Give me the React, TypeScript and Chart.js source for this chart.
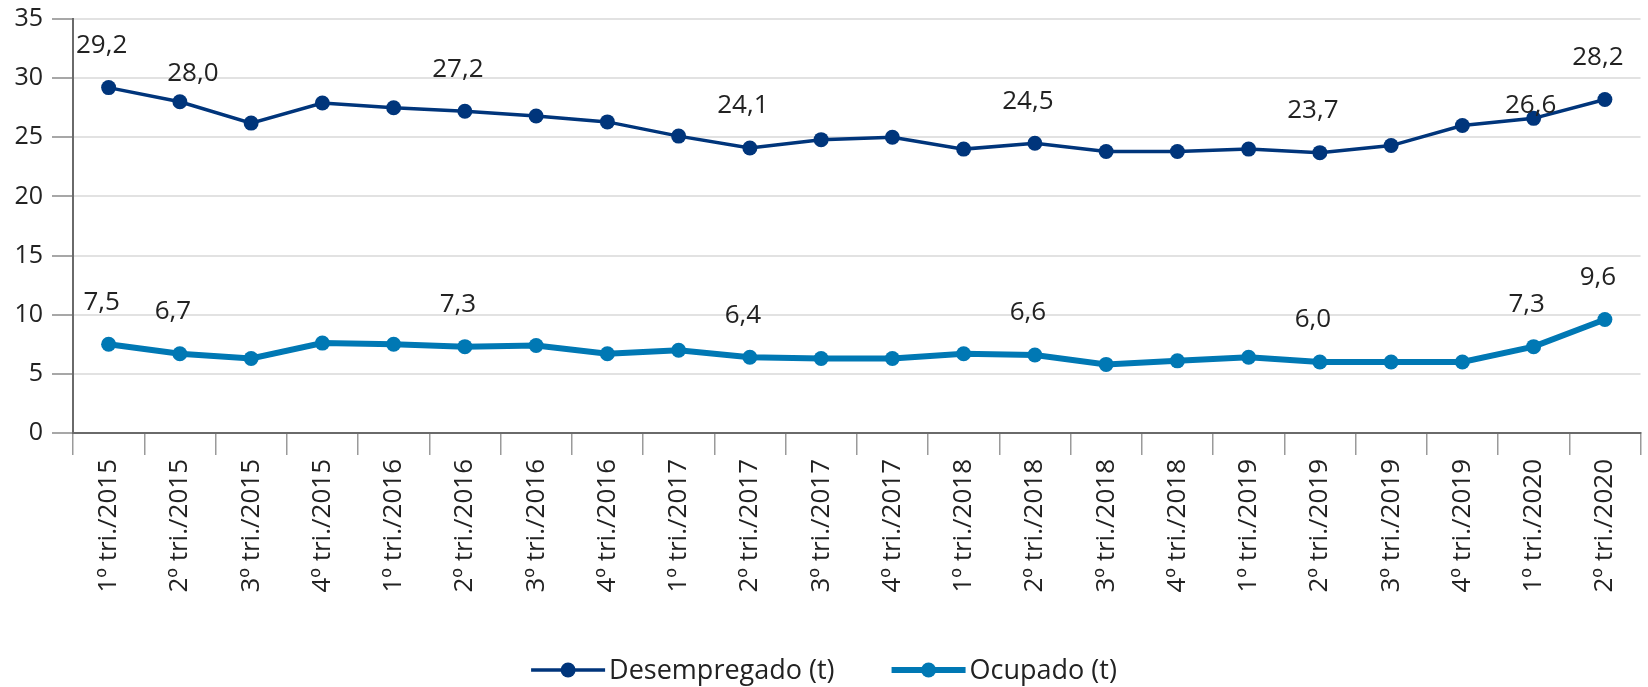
import React, { useEffect, useRef } from "react";
import { Chart, registerables } from "chart.js";

Chart.register(...registerables);

const categories = [
  "1º tri./2015", "2º tri./2015", "3º tri./2015", "4º tri./2015",
  "1º tri./2016", "2º tri./2016", "3º tri./2016", "4º tri./2016",
  "1º tri./2017", "2º tri./2017", "3º tri./2017", "4º tri./2017",
  "1º tri./2018", "2º tri./2018", "3º tri./2018", "4º tri./2018",
  "1º tri./2019", "2º tri./2019", "3º tri./2019", "4º tri./2019",
  "1º tri./2020", "2º tri./2020",
];

const desempregado = [
  29.2, 28.0, 26.2, 27.9, 27.5, 27.2, 26.8, 26.3, 25.1, 24.1, 24.8,
  25.0, 24.0, 24.5, 23.8, 23.8, 24.0, 23.7, 24.3, 26.0, 26.6, 28.2,
];

const ocupado = [
  7.5, 6.7, 6.3, 7.6, 7.5, 7.3, 7.4, 6.7, 7.0, 6.4, 6.3,
  6.3, 6.7, 6.6, 5.8, 6.1, 6.4, 6.0, 6.0, 6.0, 7.3, 9.6,
];

const seriesNames = ["Desempregado (t)", "Ocupado (t)"];

// indices of points that carry a value label
const labeledIndices = [0, 1, 5, 9, 13, 17, 20, 21];

const yMin = 0;
const yMax = 35;
const yStep = 5;

const NAVY = "#00357b";
const BLUE = "#0078b4";
const TEXT = "#222222";
const FONT = "'Open Sans', 'Noto Sans', sans-serif";

// label placement style (offsets relative to the point)
const labelStyle = { dx: -7, dy: 42 };
const labelNudges: Record<string, { dx: number; dy: number }> = {
  "0-1": { dx: 13, dy: 28 },
  "0-20": { dx: -3, dy: 13 },
};

const fmt = (v: number) => v.toFixed(1).replace(".", ",");

const valueLabelPlugin = {
  id: "valueLabels",
  afterDatasetsDraw(chart: any) {
    const ctx = chart.ctx;
    ctx.save();
    ctx.font = `26px ${FONT}`;
    ctx.fillStyle = TEXT;
    ctx.textAlign = "center";
    ctx.textBaseline = "middle";
    chart.data.datasets.forEach((ds: any, di: number) => {
      const meta = chart.getDatasetMeta(di);
      labeledIndices.forEach((i) => {
        const pt = meta.data[i];
        if (!pt) return;
        const n = labelNudges[`${di}-${i}`] || labelStyle;
        ctx.fillText(fmt(ds.data[i]), pt.x + n.dx, pt.y - n.dy);
      });
    });
    ctx.restore();
  },
};

const lineLegendPlugin = {
  id: "lineLegend",
  afterDraw(chart: any) {
    const ctx = chart.ctx;
    ctx.save();
    ctx.font = `27px ${FONT}`;
    const lineW = 74;
    const gap = 4;
    const itemGap = 57;
    const items = chart.data.datasets.map((ds: any) => ({
      ds,
      tw: ctx.measureText(ds.label).width,
    }));
    const total =
      items.reduce((s: number, it: any) => s + lineW + gap + it.tw, 0) +
      itemGap * (items.length - 1);
    let x = chart.width / 2 - total / 2;
    const y = chart.height - 17;
    items.forEach((it: any) => {
      const ds = it.ds;
      ctx.strokeStyle = ds.borderColor;
      ctx.lineWidth = ds.borderWidth;
      ctx.beginPath();
      ctx.moveTo(x, y);
      ctx.lineTo(x + lineW, y);
      ctx.stroke();
      ctx.fillStyle = ds.borderColor;
      ctx.beginPath();
      ctx.arc(x + lineW / 2, y, ds.pointRadius, 0, Math.PI * 2);
      ctx.fill();
      ctx.fillStyle = TEXT;
      ctx.textAlign = "left";
      ctx.textBaseline = "middle";
      ctx.fillText(ds.label, x + lineW + gap, y + 1);
      x += lineW + gap + it.tw + itemGap;
    });
    ctx.restore();
  },
};

export default function App() {
  const canvasRef = useRef<HTMLCanvasElement | null>(null);

  useEffect(() => {
    if (!canvasRef.current) return;
    const chart = new Chart(canvasRef.current, {
      type: "line",
      data: {
        labels: categories,
        datasets: [
          {
            label: seriesNames[0],
            data: desempregado,
            borderColor: NAVY,
            backgroundColor: NAVY,
            borderWidth: 3.5,
            pointRadius: 7.5,
            pointBackgroundColor: NAVY,
            pointBorderWidth: 0,
            tension: 0,
          },
          {
            label: seriesNames[1],
            data: ocupado,
            borderColor: BLUE,
            backgroundColor: BLUE,
            borderWidth: 6,
            pointRadius: 7.5,
            pointBackgroundColor: BLUE,
            pointBorderWidth: 0,
            tension: 0,
          },
        ],
      },
      options: {
        animation: false,
        responsive: true,
        maintainAspectRatio: false,
        layout: { padding: { top: 19, right: 2, bottom: 90, left: 0 } },
        plugins: {
          legend: { display: false },
          tooltip: { enabled: false },
        },
        scales: {
          x: {
            offset: true,
            grid: {
              offset: true,
              drawOnChartArea: false,
              drawTicks: true,
              tickLength: 22,
              color: "#9a9a9a",
              lineWidth: 1.5,
            },
            border: { display: true, color: "#6a6a6a", width: 2 },
            ticks: {
              autoSkip: false,
              minRotation: 90,
              maxRotation: 90,
              padding: 4,
              color: TEXT,
              font: { family: FONT, size: 26 },
            },
            afterFit: (scale: any) => {
              scale.height = 164;
            },
          },
          y: {
            min: yMin,
            max: yMax,
            ticks: {
              stepSize: yStep,
              padding: 9,
              color: TEXT,
              font: { family: FONT, size: 25 },
            },
            grid: {
              color: "#e2e2e2",
              lineWidth: 2,
              tickLength: 21,
              tickColor: "#8a8a8a",
              tickWidth: 1.5,
            },
            border: { display: true, color: "#6a6a6a", width: 2 },
            afterFit: (scale: any) => {
              scale.width = 73;
              scale.paddingTop = 0;
              scale.paddingBottom = 0;
            },
          },
        },
      },
      plugins: [valueLabelPlugin, lineLegendPlugin],
    });
    return () => chart.destroy();
  }, []);

  return (
    <div
      style={{
        position: "fixed",
        left: 0,
        top: 0,
        width: 1648,
        height: 687,
        background: "#fff",
      }}
    >
      <canvas ref={canvasRef} />
    </div>
  );
}
